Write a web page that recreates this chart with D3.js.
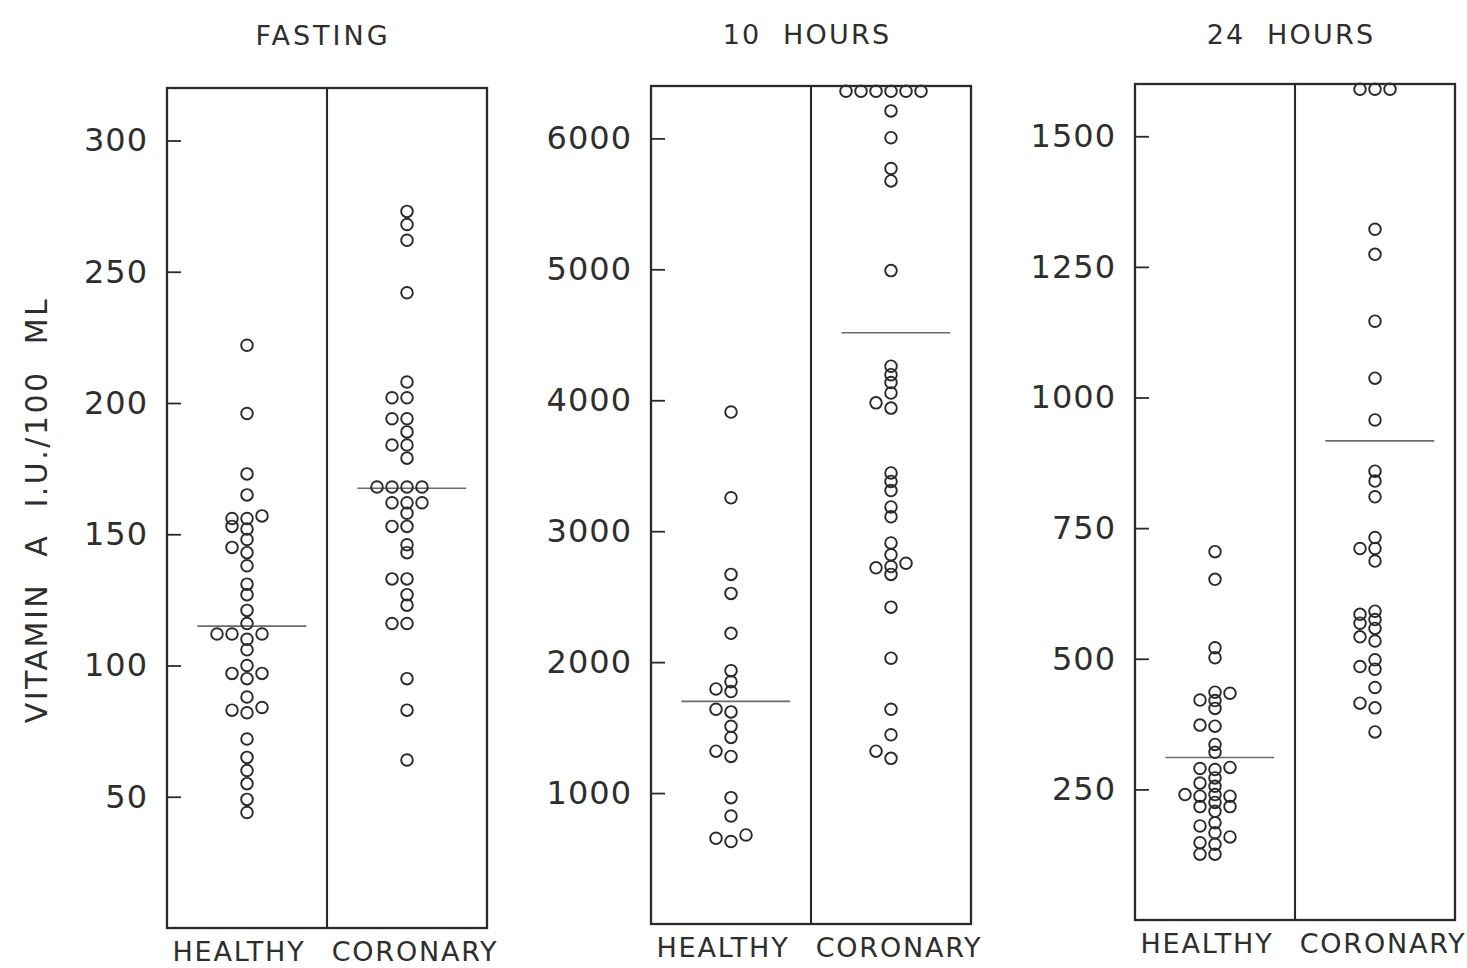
<!DOCTYPE html>
<html>
<head>
<meta charset="utf-8">
<script src="https://cdn.jsdelivr.net/npm/d3@7"></script>
<style>
  html, body { margin: 0; padding: 0; background: #fff; }
  svg { display: block; }
  text { font-family: "DejaVu Sans", sans-serif; fill: #2e2e2e; }
</style>
</head>
<body>
<svg id="chart" width="1467" height="968"></svg>
<script>
// Serum vitamin A (I.U./100 ml), healthy vs coronary subjects, after a test dose
const panelTitles = ["FASTING", "10  HOURS", "24  HOURS"];
const groups = ["HEALTHY", "CORONARY"];
const axisLabel = "VITAMIN A I.U./100 ML";

const fastingTicks = [50, 100, 150, 200, 250, 300];
const tenHourTicks = [1000, 2000, 3000, 4000, 5000, 6000];
const dayTicks = [250, 500, 750, 1000, 1250, 1500];

const fastingMax = 320;
const tenHourMax = 6400;
const dayMax = 1600;

const fastingHealthy = [222, 196, 173, 165, 156, 153, 156, 157, 152, 145, 148, 143, 138, 131, 127, 121,
  116, 110, 112, 112, 112, 106, 97, 97, 100, 95, 88, 83, 84, 82, 72, 65, 60, 55, 49, 44];
const fastingCoronary = [273, 268, 262, 242, 208, 202, 202, 194, 194, 189, 184, 184, 179, 168, 168, 168,
  168, 162, 162, 162, 158, 153, 153, 146, 143, 133, 133, 127, 123, 116, 116, 95, 83, 64];

const tenHourHealthy = [3910, 3255, 2670, 2525, 2220, 1935, 1850, 1775, 1795, 1640, 1620, 1510, 1425,
  1320, 1280, 965, 825, 655, 630, 680];
const tenHourCoronary = [6360, 6360, 6360, 6360, 6360, 6360, 6210, 6005, 5770, 5675, 4990, 4260, 4195,
  4135, 4055, 3980, 3940, 3445, 3380, 3310, 3185, 3110, 2910, 2820, 2755, 2730, 2720, 2670, 2420, 2030,
  1640, 1445, 1320, 1265];

const dayHealthy = [705, 652, 521, 502, 421, 434, 436, 420, 405, 371, 373, 336, 321, 288, 290, 292, 272,
  256, 262, 240, 237, 237, 240, 217, 208, 217, 225, 180, 186, 167, 159, 145, 148, 126, 126];
const dayCoronary = [1590, 1590, 1590, 1322, 1274, 1146, 1037, 957, 859, 840, 810, 732, 711, 711, 687, 591,
  585, 575, 568, 558, 542, 534, 498, 485, 480, 445, 415, 406, 360];

// group averages drawn as horizontal bars
const fastingMeans = [115, 167.5];
const tenHourMeans = [1700, 4515];
const dayMeans = [311, 917];

const panels = [
  { title: panelTitles[0], ticks: fastingTicks, max: fastingMax, series: [fastingHealthy, fastingCoronary], means: fastingMeans },
  { title: panelTitles[1], ticks: tenHourTicks, max: tenHourMax, series: [tenHourHealthy, tenHourCoronary], means: tenHourMeans },
  { title: panelTitles[2], ticks: dayTicks, max: dayMax, series: [dayHealthy, dayCoronary], means: dayMeans }
];

const svg = d3.select("#chart");
const ink = "#2a2a2a";
const R = 5.8;        // dot radius
const STEP = 15;      // horizontal spacing between side-by-side dots
const MIN_GAP = 7.5;  // closest allowed centre distance within a column

// place each dot in the centre column, stepping sideways when it would sit on a neighbour
function dodge(values, y, cx) {
  const order = values.map((v, i) => i).sort((a, b) => values[a] - values[b]);
  const placed = [];
  const out = new Array(values.length);
  for (const i of order) {
    const py = y(values[i]);
    for (let k = 0; ; k++) {
      const slot = k === 0 ? 0 : (k % 2 ? -Math.ceil(k / 2) : Math.ceil(k / 2));
      const px = cx + slot * STEP;
      if (placed.every(p => Math.hypot(p.x - px, p.y - py) >= MIN_GAP)) {
        const pt = { x: px, y: py, v: values[i] };
        placed.push(pt);
        out[i] = pt;
        break;
      }
    }
  }
  return out;
}

panels.forEach((p, i) => {
  const left = 167 + 484 * i;
  const right = left + 320;
  const top = 88 - 2 * i;
  const bottom = 928 - 4 * i;

  const x = d3.scaleBand().domain(groups).range([left, right]).padding(0);
  const y = d3.scaleLinear().domain([0, p.max]).range([bottom, top]);
  const g = svg.append("g");

  // title
  g.append("text")
    .attr("x", (left + right) / 2 - 4)
    .attr("y", 44 + (i === 0 ? 1 : 0))
    .attr("text-anchor", "middle")
    .style("white-space", "pre")
    .style("font-size", "27px")
    .style("letter-spacing", i === 0 ? "3px" : "2.2px")
    .text(p.title);

  // value axis: ticks point inward, labels to the left
  const axis = d3.axisLeft(y)
    .tickValues(p.ticks)
    .tickFormat(d3.format("d"))
    .tickSizeInner(-14)
    .tickSizeOuter(0)
    .tickPadding(19);
  const ax = g.append("g").attr("transform", `translate(${left},0)`).call(axis);
  ax.select(".domain").remove();
  ax.selectAll(".tick line").attr("stroke", ink).attr("stroke-width", 1.8);
  ax.selectAll(".tick text")
    .style("font-size", "32px")
    .style("letter-spacing", "1px")
    .attr("fill", ink);

  // frame and divider between the two groups
  g.append("rect")
    .attr("x", left).attr("y", top)
    .attr("width", right - left).attr("height", bottom - top)
    .attr("fill", "none").attr("stroke", ink).attr("stroke-width", 2.3);
  g.append("line")
    .attr("x1", x(groups[1])).attr("x2", x(groups[1]))
    .attr("y1", top).attr("y2", bottom)
    .attr("stroke", ink).attr("stroke-width", 2.1);

  // group labels
  g.selectAll("text.group")
    .data(groups)
    .join("text")
    .attr("class", "group")
    .attr("x", (d, j) => x(d) + x.bandwidth() / 2 + (j === 0 ? -8 : 8))
    .attr("y", bottom + 33)
    .attr("text-anchor", "middle")
    .style("font-size", "27px")
    .style("letter-spacing", "1.8px")
    .text(d => d);

  // dots and mean bars
  groups.forEach((grp, j) => {
    const cx = x(grp) + x.bandwidth() / 2;
    const pts = dodge(p.series[j], y, cx);
    g.append("line")
      .attr("x1", cx - 0.31 * x.bandwidth()).attr("x2", cx + 0.37 * x.bandwidth())
      .attr("y1", y(p.means[j])).attr("y2", y(p.means[j]))
      .attr("stroke", "#6a6a6a").attr("stroke-width", 1.6);
    g.append("g").selectAll("circle")
      .data(pts)
      .join("circle")
      .attr("cx", d => d.x)
      .attr("cy", d => d.y)
      .attr("r", R)
      .attr("fill", "none")
      .attr("stroke", ink)
      .attr("stroke-width", 1.9);
  });
});

// shared value-axis title
svg.append("text")
  .attr("transform", "translate(47,510) rotate(-90)")
  .attr("text-anchor", "middle")
  .style("font-size", "30px")
  .style("letter-spacing", "2.5px")
  .style("word-spacing", "14px")
  .text(axisLabel);
</script>
</body>
</html>
